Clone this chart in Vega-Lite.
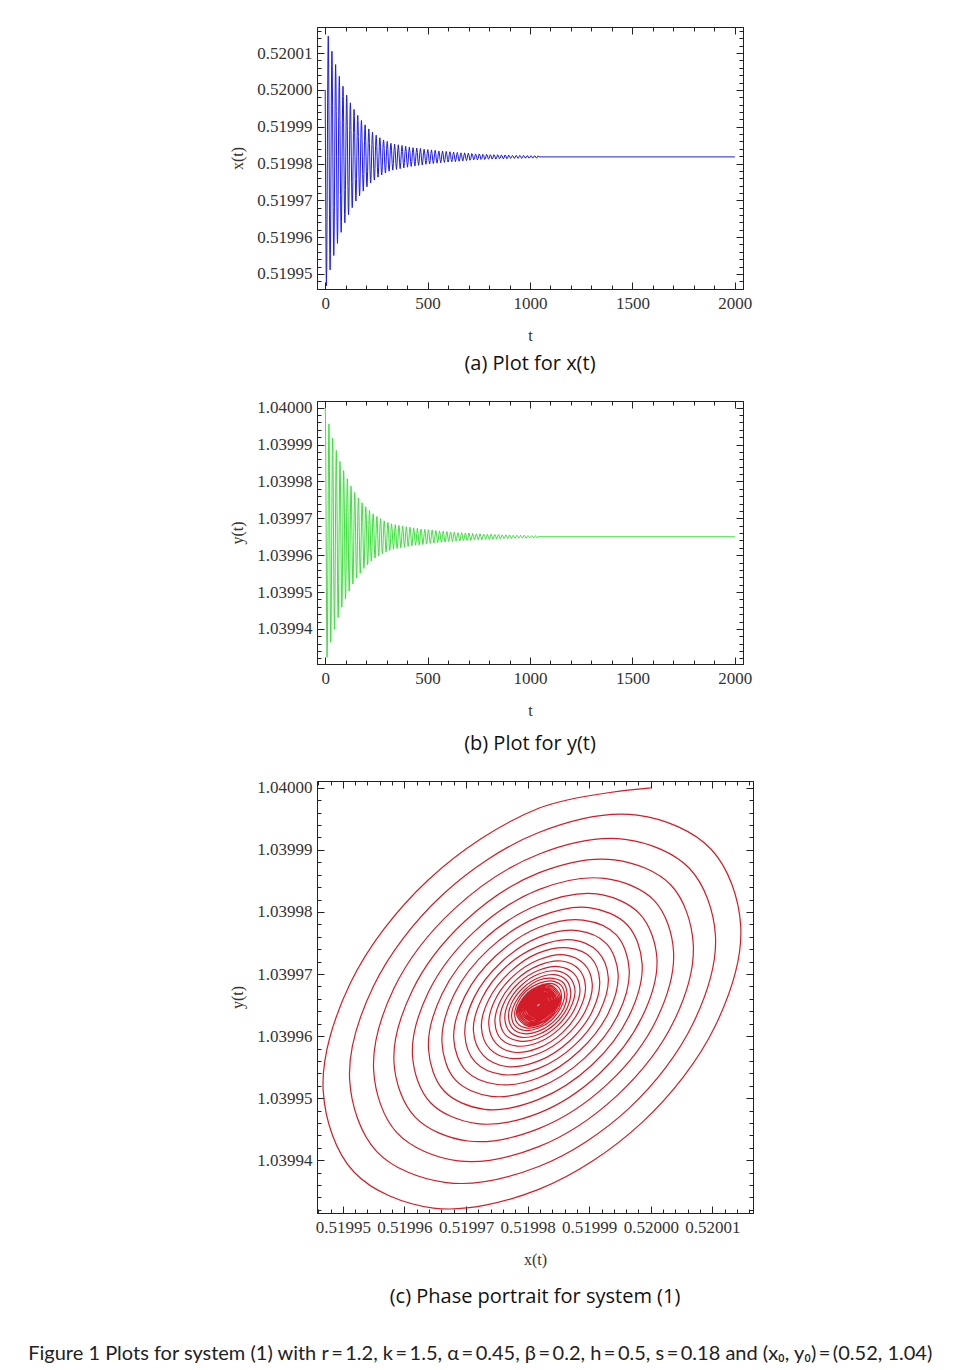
{
"$schema": "https://vega.github.io/schema/vega-lite/v6.json",
"padding": {"left": 28, "top": 26, "right": 10, "bottom": 5},
"background": "white",
"datasets": {"traj": [
{"t":0,"x":0.52,"y":1.04},{"t":1.5,"x":0.5199818,"y":1.0399967},{"t":3,"x":0.5199639,"y":1.0399852},{"t":4.5,"x":0.5199512,"y":1.0399685},{"t":6,"x":0.5199468,"y":1.0399513},{"t":7.5,"x":0.5199518,"y":1.0399381},{"t":9,"x":0.5199647,"y":1.0399323},{"t":10.5,"x":0.5199818,"y":1.0399353},{"t":12,"x":0.5199986,"y":1.0399461},{"t":13.5,"x":0.5200105,"y":1.0399617},{"t":15,"x":0.5200146,"y":1.0399778},{"t":16.5,"x":0.5200098,"y":1.0399901},
{"t":18,"x":0.5199978,"y":1.0399956},{"t":19.5,"x":0.5199818,"y":1.0399928},{"t":21,"x":0.5199661,"y":1.0399827},{"t":22.5,"x":0.519955,"y":1.0399681},{"t":24,"x":0.5199511,"y":1.039953},{"t":25.5,"x":0.5199555,"y":1.0399414},{"t":27,"x":0.5199668,"y":1.0399364},{"t":28.5,"x":0.5199818,"y":1.039939},{"t":30,"x":0.5199965,"y":1.0399484},{"t":31.5,"x":0.5200069,"y":1.0399621},{"t":33,"x":0.5200105,"y":1.0399762},{"t":34.5,"x":0.5200063,"y":1.039987},
{"t":36,"x":0.5199958,"y":1.0399917},{"t":37.5,"x":0.5199818,"y":1.0399893},{"t":39,"x":0.5199681,"y":1.0399805},{"t":40.5,"x":0.5199583,"y":1.0399677},{"t":42,"x":0.519955,"y":1.0399545},{"t":43.5,"x":0.5199588,"y":1.0399444},{"t":45,"x":0.5199687,"y":1.0399399},{"t":46.5,"x":0.5199818,"y":1.0399422},{"t":48,"x":0.5199946,"y":1.0399505},{"t":49.5,"x":0.5200038,"y":1.0399625},{"t":51,"x":0.5200069,"y":1.0399748},{"t":52.5,"x":0.5200033,"y":1.0399843},
{"t":54,"x":0.5199941,"y":1.0399884},{"t":55.5,"x":0.5199818,"y":1.0399863},{"t":57,"x":0.5199698,"y":1.0399785},{"t":58.5,"x":0.5199613,"y":1.0399674},{"t":60,"x":0.5199583,"y":1.0399558},{"t":61.5,"x":0.5199617,"y":1.039947},{"t":63,"x":0.5199703,"y":1.0399431},{"t":64.5,"x":0.5199818,"y":1.0399451},{"t":66,"x":0.519993,"y":1.0399523},{"t":67.5,"x":0.520001,"y":1.0399628},{"t":69,"x":0.5200037,"y":1.0399736},{"t":70.5,"x":0.5200006,"y":1.0399818},
{"t":72,"x":0.5199925,"y":1.0399854},{"t":73.5,"x":0.5199818,"y":1.0399836},{"t":75,"x":0.5199713,"y":1.0399768},{"t":76.5,"x":0.5199639,"y":1.0399671},{"t":78,"x":0.5199613,"y":1.039957},{"t":79.5,"x":0.5199642,"y":1.0399493},{"t":81,"x":0.5199718,"y":1.0399459},{"t":82.5,"x":0.5199818,"y":1.0399476},{"t":84,"x":0.5199916,"y":1.0399539},{"t":85.5,"x":0.5199986,"y":1.0399631},{"t":87,"x":0.520001,"y":1.0399725},{"t":88.5,"x":0.5199982,"y":1.0399797},
{"t":90,"x":0.5199912,"y":1.0399829},{"t":91.5,"x":0.5199818,"y":1.0399812},{"t":93,"x":0.5199726,"y":1.0399753},{"t":94.5,"x":0.5199661,"y":1.0399668},{"t":96,"x":0.5199639,"y":1.039958},{"t":97.5,"x":0.5199664,"y":1.0399512},{"t":99,"x":0.519973,"y":1.0399482},{"t":100.5,"x":0.5199818,"y":1.0399498},{"t":102,"x":0.5199904,"y":1.0399553},{"t":103.5,"x":0.5199965,"y":1.0399633},{"t":105,"x":0.5199986,"y":1.0399716},{"t":106.5,"x":0.5199962,"y":1.0399779},
{"t":108,"x":0.51999,"y":1.0399807},{"t":109.5,"x":0.5199818,"y":1.0399792},{"t":111,"x":0.5199738,"y":1.0399741},{"t":112.5,"x":0.519968,"y":1.0399666},{"t":114,"x":0.5199661,"y":1.0399589},{"t":115.5,"x":0.5199683,"y":1.0399529},{"t":117,"x":0.5199741,"y":1.0399503},{"t":118.5,"x":0.5199818,"y":1.0399517},{"t":120,"x":0.5199893,"y":1.0399565},{"t":121.5,"x":0.5199947,"y":1.0399635},{"t":123,"x":0.5199965,"y":1.0399707},{"t":124.5,"x":0.5199944,"y":1.0399763},
{"t":126,"x":0.519989,"y":1.0399787},{"t":127.5,"x":0.5199818,"y":1.0399775},{"t":129,"x":0.5199748,"y":1.0399729},{"t":130.5,"x":0.5199698,"y":1.0399664},{"t":132,"x":0.519968,"y":1.0399596},{"t":133.5,"x":0.51997,"y":1.0399544},{"t":135,"x":0.5199751,"y":1.0399522},{"t":136.5,"x":0.5199818,"y":1.0399533},{"t":138,"x":0.5199884,"y":1.0399576},{"t":139.5,"x":0.5199931,"y":1.0399637},{"t":141,"x":0.5199947,"y":1.03997},{"t":142.5,"x":0.5199928,"y":1.0399749},
{"t":144,"x":0.5199881,"y":1.039977},{"t":145.5,"x":0.5199818,"y":1.0399759},{"t":147,"x":0.5199757,"y":1.0399719},{"t":148.5,"x":0.5199713,"y":1.0399662},{"t":150,"x":0.5199698,"y":1.0399603},{"t":151.5,"x":0.5199715,"y":1.0399558},{"t":153,"x":0.5199759,"y":1.0399538},{"t":154.5,"x":0.5199818,"y":1.0399548},{"t":156,"x":0.5199876,"y":1.0399585},{"t":157.5,"x":0.5199917,"y":1.0399639},{"t":159,"x":0.5199931,"y":1.0399694},{"t":160.5,"x":0.5199914,"y":1.0399736},
{"t":162,"x":0.5199873,"y":1.0399755},{"t":163.5,"x":0.5199818,"y":1.0399745},{"t":165,"x":0.5199764,"y":1.0399711},{"t":166.5,"x":0.5199726,"y":1.0399661},{"t":168,"x":0.5199712,"y":1.0399609},{"t":169.5,"x":0.5199728,"y":1.0399569},{"t":171,"x":0.5199766,"y":1.0399551},{"t":172.5,"x":0.5199818,"y":1.039956},{"t":174,"x":0.5199869,"y":1.0399593},{"t":175.5,"x":0.5199905,"y":1.039964},{"t":177,"x":0.5199917,"y":1.0399689},{"t":178.5,"x":0.5199903,"y":1.0399726},
{"t":180,"x":0.5199866,"y":1.0399742},{"t":181.5,"x":0.5199818,"y":1.0399734},{"t":183,"x":0.5199771,"y":1.0399703},{"t":184.5,"x":0.5199737,"y":1.0399659},{"t":186,"x":0.5199725,"y":1.0399614},{"t":187.5,"x":0.5199739,"y":1.0399579},{"t":189,"x":0.5199773,"y":1.0399564},{"t":190.5,"x":0.5199818,"y":1.0399572},{"t":192,"x":0.5199862,"y":1.03996},{"t":193.5,"x":0.5199894,"y":1.0399641},{"t":195,"x":0.5199905,"y":1.0399684},{"t":196.5,"x":0.5199892,"y":1.0399716},
{"t":198,"x":0.519986,"y":1.0399731},{"t":199.5,"x":0.5199818,"y":1.0399723},{"t":201,"x":0.5199777,"y":1.0399697},{"t":202.5,"x":0.5199747,"y":1.0399658},{"t":204,"x":0.5199737,"y":1.0399618},{"t":205.5,"x":0.5199749,"y":1.0399588},{"t":207,"x":0.5199778,"y":1.0399574},{"t":208.5,"x":0.5199818,"y":1.0399581},{"t":210,"x":0.5199857,"y":1.0399606},{"t":211.5,"x":0.5199884,"y":1.0399642},{"t":213,"x":0.5199894,"y":1.039968},{"t":214.5,"x":0.5199883,"y":1.0399708},
{"t":216,"x":0.5199855,"y":1.0399721},{"t":217.5,"x":0.5199818,"y":1.0399714},{"t":219,"x":0.5199782,"y":1.0399691},{"t":220.5,"x":0.5199756,"y":1.0399657},{"t":222,"x":0.5199747,"y":1.0399622},{"t":223.5,"x":0.5199757,"y":1.0399595},{"t":225,"x":0.5199783,"y":1.0399584},{"t":226.5,"x":0.5199818,"y":1.039959},{"t":228,"x":0.5199852,"y":1.0399612},{"t":229.5,"x":0.5199876,"y":1.0399643},{"t":231,"x":0.5199885,"y":1.0399676},{"t":232.5,"x":0.5199875,"y":1.0399701},
{"t":234,"x":0.519985,"y":1.0399712},{"t":235.5,"x":0.5199818,"y":1.0399706},{"t":237,"x":0.5199786,"y":1.0399686},{"t":238.5,"x":0.5199763,"y":1.0399656},{"t":240,"x":0.5199755,"y":1.0399626},{"t":241.5,"x":0.5199764,"y":1.0399602},{"t":243,"x":0.5199787,"y":1.0399592},{"t":244.5,"x":0.5199818,"y":1.0399597},{"t":246,"x":0.5199848,"y":1.0399616},{"t":247.5,"x":0.5199869,"y":1.0399644},{"t":249,"x":0.5199877,"y":1.0399673},{"t":250.5,"x":0.5199868,"y":1.0399695},
{"t":252,"x":0.5199847,"y":1.0399705},{"t":253.5,"x":0.5199818,"y":1.03997},{"t":255,"x":0.519979,"y":1.0399682},{"t":256.5,"x":0.519977,"y":1.0399656},{"t":258,"x":0.5199763,"y":1.0399628},{"t":259.5,"x":0.5199771,"y":1.0399607},{"t":261,"x":0.5199791,"y":1.0399598},{"t":262.5,"x":0.5199818,"y":1.0399603},{"t":264,"x":0.5199845,"y":1.039962},{"t":265.5,"x":0.5199864,"y":1.0399645},{"t":267,"x":0.519987,"y":1.039967},{"t":268.5,"x":0.5199863,"y":1.039969},
{"t":270,"x":0.5199844,"y":1.0399699},{"t":271.5,"x":0.5199818,"y":1.0399694},{"t":273,"x":0.5199793,"y":1.0399678},{"t":274.5,"x":0.5199775,"y":1.0399655},{"t":276,"x":0.5199769,"y":1.0399631},{"t":277.5,"x":0.5199776,"y":1.0399612},{"t":279,"x":0.5199794,"y":1.0399604},{"t":280.5,"x":0.5199818,"y":1.0399608},{"t":282,"x":0.5199842,"y":1.0399623},{"t":283.5,"x":0.5199859,"y":1.0399645},{"t":285,"x":0.5199864,"y":1.0399668},{"t":286.5,"x":0.5199858,"y":1.0399686},
{"t":288,"x":0.5199841,"y":1.0399693},{"t":289.5,"x":0.5199818,"y":1.039969},{"t":291,"x":0.5199796,"y":1.0399675},{"t":292.5,"x":0.519978,"y":1.0399654},{"t":294,"x":0.5199774,"y":1.0399633},{"t":295.5,"x":0.519978,"y":1.0399616},{"t":297,"x":0.5199796,"y":1.0399609},{"t":298.5,"x":0.5199818,"y":1.0399613},{"t":300,"x":0.5199839,"y":1.0399626},{"t":301.5,"x":0.5199854,"y":1.0399646},{"t":303,"x":0.519986,"y":1.0399666},{"t":304.5,"x":0.5199854,"y":1.0399682},
{"t":306,"x":0.5199838,"y":1.0399689},{"t":307.5,"x":0.5199818,"y":1.0399685},{"t":309,"x":0.5199798,"y":1.0399673},{"t":310.5,"x":0.5199784,"y":1.0399654},{"t":312,"x":0.5199779,"y":1.0399635},{"t":313.5,"x":0.5199784,"y":1.039962},{"t":315,"x":0.5199799,"y":1.0399613},{"t":316.5,"x":0.5199818,"y":1.0399616},{"t":318,"x":0.5199837,"y":1.0399629},{"t":319.5,"x":0.5199851,"y":1.0399646},{"t":321,"x":0.5199855,"y":1.0399665},{"t":322.5,"x":0.519985,"y":1.0399679},
{"t":324,"x":0.5199836,"y":1.0399685},{"t":327,"x":0.51998,"y":1.039967},{"t":330,"x":0.5199782,"y":1.0399636},{"t":333,"x":0.51998,"y":1.0399616},{"t":336,"x":0.5199836,"y":1.039963},{"t":339,"x":0.5199853,"y":1.0399664},
{"t":342,"x":0.5199835,"y":1.0399683},{"t":345,"x":0.5199801,"y":1.0399669},{"t":348,"x":0.5199784,"y":1.0399637},{"t":351,"x":0.5199801,"y":1.0399618},{"t":354,"x":0.5199834,"y":1.0399631},{"t":357,"x":0.5199851,"y":1.0399663},
{"t":360,"x":0.5199834,"y":1.0399681},{"t":363,"x":0.5199802,"y":1.0399668},{"t":366,"x":0.5199786,"y":1.0399638},{"t":369,"x":0.5199802,"y":1.039962},{"t":372,"x":0.5199833,"y":1.0399633},{"t":375,"x":0.5199849,"y":1.0399662},
{"t":378,"x":0.5199833,"y":1.0399679},{"t":381,"x":0.5199803,"y":1.0399667},{"t":384,"x":0.5199788,"y":1.0399638},{"t":387,"x":0.5199803,"y":1.0399622},{"t":390,"x":0.5199833,"y":1.0399634},{"t":393,"x":0.5199847,"y":1.0399661},
{"t":396,"x":0.5199832,"y":1.0399677},{"t":399,"x":0.5199804,"y":1.0399666},{"t":402,"x":0.519979,"y":1.0399639},{"t":405,"x":0.5199804,"y":1.0399624},{"t":408,"x":0.5199832,"y":1.0399635},{"t":411,"x":0.5199845,"y":1.0399661},
{"t":414,"x":0.5199831,"y":1.0399676},{"t":417,"x":0.5199805,"y":1.0399665},{"t":420,"x":0.5199792,"y":1.039964},{"t":423,"x":0.5199805,"y":1.0399625},{"t":426,"x":0.5199831,"y":1.0399635},{"t":429,"x":0.5199843,"y":1.039966},
{"t":432,"x":0.5199831,"y":1.0399674},{"t":435,"x":0.5199806,"y":1.0399664},{"t":438,"x":0.5199793,"y":1.039964},{"t":441,"x":0.5199806,"y":1.0399627},{"t":444,"x":0.519983,"y":1.0399636},{"t":447,"x":0.5199842,"y":1.0399659},
{"t":450,"x":0.519983,"y":1.0399673},{"t":453,"x":0.5199806,"y":1.0399663},{"t":456,"x":0.5199795,"y":1.0399641},{"t":459,"x":0.5199807,"y":1.0399628},{"t":462,"x":0.5199829,"y":1.0399637},{"t":465,"x":0.5199841,"y":1.0399659},
{"t":468,"x":0.5199829,"y":1.0399671},{"t":471,"x":0.5199807,"y":1.0399662},{"t":474,"x":0.5199796,"y":1.0399641},{"t":477,"x":0.5199807,"y":1.0399629},{"t":480,"x":0.5199829,"y":1.0399638},{"t":483,"x":0.5199839,"y":1.0399658},
{"t":486,"x":0.5199828,"y":1.039967},{"t":489,"x":0.5199808,"y":1.0399662},{"t":492,"x":0.5199798,"y":1.0399642},{"t":495,"x":0.5199808,"y":1.0399631},{"t":498,"x":0.5199828,"y":1.0399639},{"t":501,"x":0.5199838,"y":1.0399658},
{"t":504,"x":0.5199828,"y":1.0399669},{"t":507,"x":0.5199808,"y":1.039966},{"t":510,"x":0.5199799,"y":1.0399642},{"t":513,"x":0.5199808,"y":1.0399632},{"t":516,"x":0.5199827,"y":1.0399639},{"t":519,"x":0.5199837,"y":1.0399657},
{"t":522,"x":0.5199827,"y":1.0399668},{"t":525,"x":0.5199809,"y":1.039966},{"t":528,"x":0.51998,"y":1.0399643},{"t":531,"x":0.5199809,"y":1.0399633},{"t":534,"x":0.5199827,"y":1.039964},{"t":537,"x":0.5199836,"y":1.0399657},
{"t":540,"x":0.5199827,"y":1.0399667},{"t":543,"x":0.5199809,"y":1.039966},{"t":546,"x":0.5199801,"y":1.0399643},{"t":549,"x":0.519981,"y":1.0399634},{"t":552,"x":0.5199826,"y":1.0399641},{"t":555,"x":0.5199834,"y":1.0399656},
{"t":558,"x":0.5199826,"y":1.0399666},{"t":561,"x":0.519981,"y":1.0399659},{"t":564,"x":0.5199802,"y":1.0399644},{"t":567,"x":0.519981,"y":1.0399635},{"t":570,"x":0.5199826,"y":1.0399641},{"t":573,"x":0.5199834,"y":1.0399656},
{"t":576,"x":0.5199826,"y":1.0399665},{"t":579,"x":0.519981,"y":1.0399659},{"t":582,"x":0.5199803,"y":1.0399644},{"t":585,"x":0.5199811,"y":1.0399636},{"t":588,"x":0.5199825,"y":1.0399642},{"t":591,"x":0.5199833,"y":1.0399656},
{"t":594,"x":0.5199825,"y":1.0399664},{"t":597,"x":0.5199811,"y":1.0399658},{"t":600,"x":0.5199804,"y":1.0399644},{"t":603,"x":0.5199811,"y":1.0399637},{"t":606,"x":0.5199825,"y":1.0399642},{"t":609,"x":0.5199832,"y":1.0399655},
{"t":612,"x":0.5199825,"y":1.0399663},{"t":615,"x":0.5199811,"y":1.0399658},{"t":618,"x":0.5199805,"y":1.0399645},{"t":621,"x":0.5199811,"y":1.0399637},{"t":624,"x":0.5199825,"y":1.0399643},{"t":627,"x":0.5199831,"y":1.0399655},
{"t":630,"x":0.5199824,"y":1.0399662},{"t":633,"x":0.5199812,"y":1.0399657},{"t":636,"x":0.5199805,"y":1.0399645},{"t":639,"x":0.5199812,"y":1.0399638},{"t":642,"x":0.5199824,"y":1.0399643},{"t":645,"x":0.519983,"y":1.0399655},
{"t":648,"x":0.5199824,"y":1.0399661},{"t":651,"x":0.5199812,"y":1.0399657},{"t":654,"x":0.5199806,"y":1.0399645},{"t":657,"x":0.5199812,"y":1.0399639},{"t":660,"x":0.5199824,"y":1.0399643},{"t":663,"x":0.5199829,"y":1.0399654},
{"t":666,"x":0.5199824,"y":1.0399661},{"t":669,"x":0.5199812,"y":1.0399656},{"t":672,"x":0.5199807,"y":1.0399646},{"t":675,"x":0.5199813,"y":1.039964},{"t":678,"x":0.5199823,"y":1.0399644},{"t":681,"x":0.5199829,"y":1.0399654},
{"t":684,"x":0.5199823,"y":1.039966},{"t":687,"x":0.5199813,"y":1.0399656},{"t":690,"x":0.5199808,"y":1.0399646},{"t":693,"x":0.5199813,"y":1.039964},{"t":696,"x":0.5199823,"y":1.0399644},{"t":699,"x":0.5199828,"y":1.0399654},
{"t":702,"x":0.5199823,"y":1.039966},{"t":706.5,"x":0.5199809,"y":1.0399651},{"t":711,"x":0.5199813,"y":1.039964},{"t":715.5,"x":0.5199827,"y":1.0399649},
{"t":720,"x":0.5199823,"y":1.0399659},{"t":724.5,"x":0.519981,"y":1.0399651},{"t":729,"x":0.5199813,"y":1.0399641},{"t":733.5,"x":0.5199826,"y":1.0399649},
{"t":738,"x":0.5199822,"y":1.0399658},{"t":742.5,"x":0.519981,"y":1.0399651},{"t":747,"x":0.5199814,"y":1.0399642},{"t":751.5,"x":0.5199826,"y":1.0399649},
{"t":756,"x":0.5199822,"y":1.0399658},{"t":760.5,"x":0.5199811,"y":1.0399651},{"t":765,"x":0.5199814,"y":1.0399642},{"t":769.5,"x":0.5199825,"y":1.0399649},
{"t":774,"x":0.5199822,"y":1.0399657},{"t":778.5,"x":0.5199811,"y":1.0399651},{"t":783,"x":0.5199814,"y":1.0399643},{"t":787.5,"x":0.5199825,"y":1.0399649},
{"t":792,"x":0.5199822,"y":1.0399657},{"t":796.5,"x":0.5199812,"y":1.0399651},{"t":801,"x":0.5199814,"y":1.0399643},{"t":805.5,"x":0.5199824,"y":1.0399649},
{"t":810,"x":0.5199821,"y":1.0399657},{"t":814.5,"x":0.5199812,"y":1.0399651},{"t":819,"x":0.5199815,"y":1.0399643},{"t":823.5,"x":0.5199824,"y":1.0399649},
{"t":828,"x":0.5199821,"y":1.0399656},{"t":832.5,"x":0.5199812,"y":1.0399651},{"t":837,"x":0.5199815,"y":1.0399644},{"t":841.5,"x":0.5199824,"y":1.0399649},
{"t":846,"x":0.5199821,"y":1.0399656},{"t":850.5,"x":0.5199813,"y":1.0399651},{"t":855,"x":0.5199815,"y":1.0399644},{"t":859.5,"x":0.5199823,"y":1.0399649},
{"t":864,"x":0.5199821,"y":1.0399655},{"t":868.5,"x":0.5199813,"y":1.0399651},{"t":873,"x":0.5199815,"y":1.0399645},{"t":877.5,"x":0.5199823,"y":1.0399649},
{"t":882,"x":0.5199821,"y":1.0399655},{"t":886.5,"x":0.5199813,"y":1.0399651},{"t":891,"x":0.5199815,"y":1.0399645},{"t":895.5,"x":0.5199823,"y":1.0399649},
{"t":900,"x":0.519982,"y":1.0399655},{"t":904.5,"x":0.5199814,"y":1.039965},{"t":909,"x":0.5199816,"y":1.0399645},{"t":913.5,"x":0.5199822,"y":1.039965},
{"t":918,"x":0.519982,"y":1.0399654},{"t":922.5,"x":0.5199814,"y":1.039965},{"t":927,"x":0.5199816,"y":1.0399646},{"t":931.5,"x":0.5199822,"y":1.039965},
{"t":936,"x":0.519982,"y":1.0399654},{"t":940.5,"x":0.5199814,"y":1.039965},{"t":945,"x":0.5199816,"y":1.0399646},{"t":949.5,"x":0.5199822,"y":1.039965},
{"t":954,"x":0.519982,"y":1.0399654},{"t":958.5,"x":0.5199814,"y":1.039965},{"t":963,"x":0.5199816,"y":1.0399646},{"t":967.5,"x":0.5199822,"y":1.039965},
{"t":972,"x":0.519982,"y":1.0399654},{"t":976.5,"x":0.5199815,"y":1.039965},{"t":981,"x":0.5199816,"y":1.0399646},{"t":985.5,"x":0.5199821,"y":1.039965},
{"t":990,"x":0.519982,"y":1.0399653},{"t":994.5,"x":0.5199815,"y":1.039965},{"t":999,"x":0.5199816,"y":1.0399647},{"t":1003.5,"x":0.5199821,"y":1.039965},
{"t":1008,"x":0.519982,"y":1.0399653},{"t":1012.5,"x":0.5199815,"y":1.039965},{"t":1017,"x":0.5199816,"y":1.0399647},{"t":1021.5,"x":0.5199821,"y":1.039965},
{"t":1026,"x":0.519982,"y":1.0399653},{"t":1030.5,"x":0.5199815,"y":1.039965},{"t":1035,"x":0.5199816,"y":1.0399647},{"t":1039.5,"x":0.5199821,"y":1.039965},
{"t":1044,"x":0.5199818,"y":1.039965},{"t":2000,"x":0.5199818,"y":1.039965}
]},
"title": {"text": "Figure 1  Plots for system (1) with r\u2009=\u20091.2, k\u2009=\u20091.5, α\u2009=\u20090.45, β\u2009=\u20090.2, h\u2009=\u20090.5, s\u2009=\u20090.18 and (x₀, y₀)\u2009=\u2009(0.52, 1.04)", "orient": "bottom", "anchor": "start", "dx": -201, "offset": 36, "font": "Lato", "fontSize": 20, "fontWeight": "normal", "color": "#222"},
"spacing": 23,
"vconcat": [
{
 "width": 426, "height": 262,
 "title": {"text": "(a) Plot for  x(t)", "orient": "bottom", "anchor": "middle", "offset": 11},
 "data": {"name": "traj"},
 "layer": [
  {"mark": {"type": "line", "color": "#1c1ce0", "strokeWidth": 1, "clip": true},
   "encoding": {
    "x": {"field": "t", "type": "quantitative", "scale": {"domain": [-40, 2040], "nice": false, "zero": false},
      "axis": {"orient": "bottom", "title": "t", "values": [0,500,1000,1500,2000], "format": "d"}},
    "y": {"field": "x", "type": "quantitative", "scale": {"domain": [0.5199459, 0.5200171], "nice": false, "zero": false},
      "axis": {"orient": "left", "title": "x(t)", "values": [0.51995,0.51996,0.51997,0.51998,0.51999,0.52,0.52001], "format": ".5f"}}
   }},
  {"transform": [{"filter": "datum.t === 2000"}], "mark": {"type": "point", "opacity": 0},
   "encoding": {
    "x": {"field": "t", "type": "quantitative", "scale": {"domain": [-40, 2040], "nice": false, "zero": false},
      "axis": {"orient": "top", "title": null, "labels": false, "values": [0,500,1000,1500,2000]}},
    "y": {"field": "x", "type": "quantitative", "scale": {"domain": [0.5199459, 0.5200171], "nice": false, "zero": false},
      "axis": {"orient": "right", "title": null, "labels": false, "values": [0.51995,0.51996,0.51997,0.51998,0.51999,0.52,0.52001]}}
   }},
  {"transform": [{"filter": "datum.t === 2000"}], "mark": {"type": "point", "opacity": 0},
   "encoding": {
    "x": {"field": "t", "type": "quantitative", "scale": {"domain": [-40, 2040], "nice": false, "zero": false},
      "axis": {"orient": "bottom", "title": null, "labels": false, "domain": false, "tickSize": -4, "values": [100,200,300,400,600,700,800,900,1100,1200,1300,1400,1600,1700,1800,1900]}},
    "y": {"field": "x", "type": "quantitative", "scale": {"domain": [0.5199459, 0.5200171], "nice": false, "zero": false},
      "axis": {"orient": "left", "title": null, "labels": false, "domain": false, "tickSize": -4, "values": [0.519946,0.519948,0.519952,0.519954,0.519956,0.519958,0.519962,0.519964,0.519966,0.519968,0.519972,0.519974,0.519976,0.519978,0.519982,0.519984,0.519986,0.519988,0.519992,0.519994,0.519996,0.519998,0.520002,0.520004,0.520006,0.520008,0.520012,0.520014,0.520016]}}
   }},
  {"transform": [{"filter": "datum.t === 2000"}], "mark": {"type": "point", "opacity": 0},
   "encoding": {
    "x": {"field": "t", "type": "quantitative", "scale": {"domain": [-40, 2040], "nice": false, "zero": false},
      "axis": {"orient": "top", "title": null, "labels": false, "domain": false, "tickSize": -4, "values": [100,200,300,400,600,700,800,900,1100,1200,1300,1400,1600,1700,1800,1900]}},
    "y": {"field": "x", "type": "quantitative", "scale": {"domain": [0.5199459, 0.5200171], "nice": false, "zero": false},
      "axis": {"orient": "right", "title": null, "labels": false, "domain": false, "tickSize": -4, "values": [0.519946,0.519948,0.519952,0.519954,0.519956,0.519958,0.519962,0.519964,0.519966,0.519968,0.519972,0.519974,0.519976,0.519978,0.519982,0.519984,0.519986,0.519988,0.519992,0.519994,0.519996,0.519998,0.520002,0.520004,0.520006,0.520008,0.520012,0.520014,0.520016]}}
   }}
 ],
 "resolve": {"axis": {"x": "independent", "y": "independent"}}
},
{
 "width": 426, "height": 263,
 "title": {"text": "(b) Plot for  y(t)", "orient": "bottom", "anchor": "middle", "offset": 16},
 "data": {"name": "traj"},
 "layer": [
  {"mark": {"type": "line", "color": "#3ee03e", "strokeWidth": 1, "clip": true},
   "encoding": {
    "x": {"field": "t", "type": "quantitative", "scale": {"domain": [-40, 2040], "nice": false, "zero": false},
      "axis": {"orient": "bottom", "title": "t", "values": [0,500,1000,1500,2000], "format": "d"}},
    "y": {"field": "y", "type": "quantitative", "scale": {"domain": [1.0399305, 1.0400018], "nice": false, "zero": false},
      "axis": {"orient": "left", "title": "y(t)", "values": [1.03994,1.03995,1.03996,1.03997,1.03998,1.03999,1.04], "format": ".5f"}}
   }},
  {"transform": [{"filter": "datum.t === 2000"}], "mark": {"type": "point", "opacity": 0},
   "encoding": {
    "x": {"field": "t", "type": "quantitative", "scale": {"domain": [-40, 2040], "nice": false, "zero": false},
      "axis": {"orient": "top", "title": null, "labels": false, "values": [0,500,1000,1500,2000]}},
    "y": {"field": "y", "type": "quantitative", "scale": {"domain": [1.0399305, 1.0400018], "nice": false, "zero": false},
      "axis": {"orient": "right", "title": null, "labels": false, "values": [1.03994,1.03995,1.03996,1.03997,1.03998,1.03999,1.04]}}
   }},
  {"transform": [{"filter": "datum.t === 2000"}], "mark": {"type": "point", "opacity": 0},
   "encoding": {
    "x": {"field": "t", "type": "quantitative", "scale": {"domain": [-40, 2040], "nice": false, "zero": false},
      "axis": {"orient": "bottom", "title": null, "labels": false, "domain": false, "tickSize": -4, "values": [100,200,300,400,600,700,800,900,1100,1200,1300,1400,1600,1700,1800,1900]}},
    "y": {"field": "y", "type": "quantitative", "scale": {"domain": [1.0399305, 1.0400018], "nice": false, "zero": false},
      "axis": {"orient": "left", "title": null, "labels": false, "domain": false, "tickSize": -4, "values": [1.039932,1.039934,1.039936,1.039938,1.039942,1.039944,1.039946,1.039948,1.039952,1.039954,1.039956,1.039958,1.039962,1.039964,1.039966,1.039968,1.039972,1.039974,1.039976,1.039978,1.039982,1.039984,1.039986,1.039988,1.039992,1.039994,1.039996,1.039998]}}
   }},
  {"transform": [{"filter": "datum.t === 2000"}], "mark": {"type": "point", "opacity": 0},
   "encoding": {
    "x": {"field": "t", "type": "quantitative", "scale": {"domain": [-40, 2040], "nice": false, "zero": false},
      "axis": {"orient": "top", "title": null, "labels": false, "domain": false, "tickSize": -4, "values": [100,200,300,400,600,700,800,900,1100,1200,1300,1400,1600,1700,1800,1900]}},
    "y": {"field": "y", "type": "quantitative", "scale": {"domain": [1.0399305, 1.0400018], "nice": false, "zero": false},
      "axis": {"orient": "right", "title": null, "labels": false, "domain": false, "tickSize": -4, "values": [1.039932,1.039934,1.039936,1.039938,1.039942,1.039944,1.039946,1.039948,1.039952,1.039954,1.039956,1.039958,1.039962,1.039964,1.039966,1.039968,1.039972,1.039974,1.039976,1.039978,1.039982,1.039984,1.039986,1.039988,1.039992,1.039994,1.039996,1.039998]}}
   }}
 ],
 "resolve": {"axis": {"x": "independent", "y": "independent"}}
},
{
 "width": 436, "height": 432,
 "title": {"text": "(c) Phase portrait for system  (1)", "orient": "bottom", "anchor": "middle", "offset": 20},
 "data": {"name": "traj"},
 "layer": [
  {"mark": {"type": "line", "color": "#d41c28", "strokeWidth": 1.2, "clip": true, "interpolate": "catmull-rom"},
   "encoding": {
    "x": {"field": "x", "type": "quantitative", "scale": {"domain": [0.5199458, 0.5200166], "nice": false, "zero": false},
      "axis": {"orient": "bottom", "title": "x(t)", "values": [0.51995,0.51996,0.51997,0.51998,0.51999,0.52,0.52001], "format": ".5f"}},
    "y": {"field": "y", "type": "quantitative", "scale": {"domain": [1.0399315, 1.0400011], "nice": false, "zero": false},
      "axis": {"orient": "left", "title": "y(t)", "values": [1.03994,1.03995,1.03996,1.03997,1.03998,1.03999,1.04], "format": ".5f"}},
    "order": {"field": "t", "type": "quantitative"}
   }},
  {"transform": [{"filter": "datum.t === 2000"}], "mark": {"type": "point", "opacity": 0},
   "encoding": {
    "x": {"field": "x", "type": "quantitative", "scale": {"domain": [0.5199458, 0.5200166], "nice": false, "zero": false},
      "axis": {"orient": "top", "title": null, "labels": false, "values": [0.51995,0.51996,0.51997,0.51998,0.51999,0.52,0.52001]}},
    "y": {"field": "y", "type": "quantitative", "scale": {"domain": [1.0399315, 1.0400011], "nice": false, "zero": false},
      "axis": {"orient": "right", "title": null, "labels": false, "values": [1.03994,1.03995,1.03996,1.03997,1.03998,1.03999,1.04]}}
   }},
  {"transform": [{"filter": "datum.t === 2000"}], "mark": {"type": "point", "opacity": 0},
   "encoding": {
    "x": {"field": "x", "type": "quantitative", "scale": {"domain": [0.5199458, 0.5200166], "nice": false, "zero": false},
      "axis": {"orient": "bottom", "title": null, "labels": false, "domain": false, "tickSize": -4, "values": [0.519946,0.519948,0.519952,0.519954,0.519956,0.519958,0.519962,0.519964,0.519966,0.519968,0.519972,0.519974,0.519976,0.519978,0.519982,0.519984,0.519986,0.519988,0.519992,0.519994,0.519996,0.519998,0.520002,0.520004,0.520006,0.520008,0.520012,0.520014,0.520016]}},
    "y": {"field": "y", "type": "quantitative", "scale": {"domain": [1.0399315, 1.0400011], "nice": false, "zero": false},
      "axis": {"orient": "left", "title": null, "labels": false, "domain": false, "tickSize": -4, "values": [1.039932,1.039934,1.039936,1.039938,1.039942,1.039944,1.039946,1.039948,1.039952,1.039954,1.039956,1.039958,1.039962,1.039964,1.039966,1.039968,1.039972,1.039974,1.039976,1.039978,1.039982,1.039984,1.039986,1.039988,1.039992,1.039994,1.039996,1.039998]}}
   }},
  {"transform": [{"filter": "datum.t === 2000"}], "mark": {"type": "point", "opacity": 0},
   "encoding": {
    "x": {"field": "x", "type": "quantitative", "scale": {"domain": [0.5199458, 0.5200166], "nice": false, "zero": false},
      "axis": {"orient": "top", "title": null, "labels": false, "domain": false, "tickSize": -4, "values": [0.519946,0.519948,0.519952,0.519954,0.519956,0.519958,0.519962,0.519964,0.519966,0.519968,0.519972,0.519974,0.519976,0.519978,0.519982,0.519984,0.519986,0.519988,0.519992,0.519994,0.519996,0.519998,0.520002,0.520004,0.520006,0.520008,0.520012,0.520014,0.520016]}},
    "y": {"field": "y", "type": "quantitative", "scale": {"domain": [1.0399315, 1.0400011], "nice": false, "zero": false},
      "axis": {"orient": "right", "title": null, "labels": false, "domain": false, "tickSize": -4, "values": [1.039932,1.039934,1.039936,1.039938,1.039942,1.039944,1.039946,1.039948,1.039952,1.039954,1.039956,1.039958,1.039962,1.039964,1.039966,1.039968,1.039972,1.039974,1.039976,1.039978,1.039982,1.039984,1.039986,1.039988,1.039992,1.039994,1.039996,1.039998]}}
   }}
 ],
 "resolve": {"axis": {"x": "independent", "y": "independent"}}
}
],
"config": {
 "view": {"stroke": "#222", "strokeWidth": 1},
 "axis": {"labelFont": "Liberation Serif", "labelFontSize": 17, "labelColor": "#333", "titleFont": "Liberation Serif", "titleFontSize": 16, "titleFontWeight": "normal", "titleColor": "#333", "tickColor": "#222", "tickSize": -7, "tickWidth": 1, "domainColor": "#222", "domainWidth": 1, "grid": false, "labelOverlap": false, "labelFlush": false, "labelBound": false},
 "axisBottom": {"labelPadding": 13, "titlePadding": 16},
 "axisLeft": {"labelPadding": 12, "titlePadding": 11},
 "title": {"font": "Open Sans", "fontSize": 20, "fontWeight": "normal", "color": "#111"}
}
}
